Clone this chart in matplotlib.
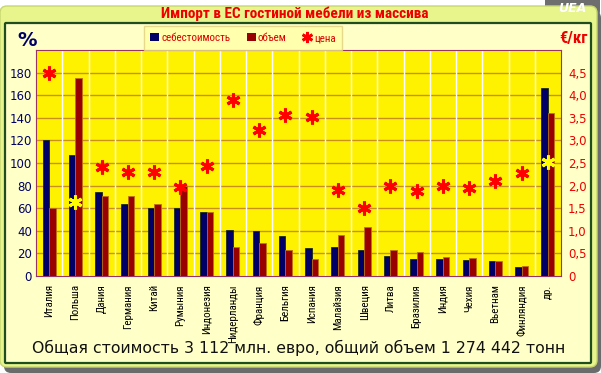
import matplotlib
matplotlib.use("Agg")
import matplotlib.pyplot as plt
import numpy as np
from matplotlib import font_manager as fm
from matplotlib.patches import FancyBboxPatch, Patch
from matplotlib.lines import Line2D
from matplotlib.ticker import FuncFormatter

# --- Data ---
countries = ['Италия', 'Польша', 'Дания', 'Германия', 'Китай', 'Румыния',
             'Индонезия', 'Нидерланды', 'Франция', 'Бельгия', 'Испания',
             'Малайзия', 'Швеция', 'Литва', 'Бразилия', 'Индия', 'Чехия',
             'Вьетнам', 'Финляндия', 'др.']
cost_pct = [120, 107, 74, 64, 60, 60, 57, 41, 40, 35, 25, 26, 23, 18, 15, 15, 14, 13, 8, 166]
volume_pct = [60, 175, 71, 71, 64, 80, 57, 26, 29, 23, 15, 36, 43, 23, 21, 17, 16, 13, 9, 144]
price_eur_kg = [4.5, 1.63, 2.41, 2.3, 2.3, 1.97, 2.43, 3.9, 3.22, 3.57, 3.52,
                1.91, 1.5, 2.0, 1.87, 2.0, 1.95, 2.11, 2.28, 2.52]
yellow_star = ['Польша', 'др.']

title = 'Импорт в ЕС гостиной мебели из массива'
footer = 'Общая стоимость 3 112 млн. евро, общий объем 1 274 442 тонн'

# --- Fonts: a narrow face if installed, otherwise Roboto a bit smaller ---
names = {f.name for f in fm.fontManager.ttflist}
narrow_name = next((n for n in ['Liberation Sans Narrow', 'Roboto Condensed',
                                'Open Sans Condensed'] if n in names), None)
if narrow_name:
    narrow, k = narrow_name, 1.0
else:
    narrow, k = 'Roboto', 0.86

W, H = 601, 373
fig = plt.figure(figsize=(W / 100, H / 100), dpi=100)
fig.patch.set_facecolor('white')

# background layer in pixel coordinates
bg = fig.add_axes([0, 0, 1, 1])
bg.set_xlim(0, W)
bg.set_ylim(H, 0)
bg.axis('off')
bg.set_zorder(0)

def rbox(x0, y0, x1, y1, r, **kw):
    p = FancyBboxPatch((x0 + r, y0 + r), x1 - x0 - 2 * r, y1 - y0 - 2 * r,
                       boxstyle=f'round,pad={r}', **kw)
    bg.add_patch(p)

rbox(4, 11, 601, 373, 7, facecolor='#6b6b6b', edgecolor='none')          # shadow
rbox(545, -10, 600, 17, 6, facecolor='#6e6e6e', edgecolor='none')         # UEA tab
rbox(0, 6, 597, 367, 7, facecolor='#e8f48c', edgecolor='#c8d670', lw=1)  # card
rbox(5, 23, 591, 363, 1, facecolor='#ffffc8', edgecolor='#1e4d1e', lw=1.6)

bg.text(572, 9, 'UEA', color='white', fontsize=9, fontweight='bold',
        fontstyle='italic', ha='center', va='center')
bg.text(295, 14, title, color='#ee0000', fontsize=11 * k, fontweight='bold',
        ha='center', va='center', family=narrow)
bg.text(27, 41, '%', color='#000066', fontsize=14, fontweight='bold',
        ha='center', va='center')
bg.text(573, 39, '€/кг', color='#ee0000', fontsize=12 * k, fontweight='bold',
        ha='center', va='center', family=narrow)
bg.text(299, 348, footer, color='#111111', fontsize=11.3, ha='center', va='center')

# --- Chart ---
ax = fig.add_axes([36 / W, 97 / H, 525 / W, 226 / H])
ax.set_zorder(1)
ax.set_facecolor('#fff200')
x = np.arange(len(countries))
bw = 0.25

for v in range(20, 200, 20):
    ax.axhline(v, color='#c8901e', lw=1, zorder=1)
for b in x[:-1] + 0.5:
    ax.axvline(b, color='white', lw=1, zorder=1)

ax.bar(x - bw / 2, cost_pct, bw, color='#000066', edgecolor='#1a2a10', lw=0.6, zorder=3)
ax.bar(x + bw / 2, volume_pct, bw, color='#990000', edgecolor='#c07010', lw=0.6, zorder=3)

ax.set_xlim(-0.5, len(countries) - 0.5)
ax.set_ylim(0, 200)
ax.set_yticks(range(0, 200, 20))
ax.tick_params(axis='y', length=0, pad=3, labelsize=8.5, labelcolor='#000066')
ax.set_xticks(x)
ax.set_xticklabels(countries, rotation=90, va='top', ha='center',
                   fontsize=7.9 * k, family=narrow)
ax.tick_params(axis='x', length=0, pad=6)
for s in ax.spines.values():
    s.set_color('#993366')
    s.set_linewidth(0.8)

ax2 = ax.twinx()
ax2.set_zorder(2)
ax2.set_ylim(0, 5)
ax2.set_yticks(np.arange(0, 4.6, 0.5))
ax2.yaxis.set_major_formatter(FuncFormatter(lambda v, p: '0' if v == 0 else f'{v:.1f}'.replace('.', ',')))
ax2.tick_params(axis='y', length=0, pad=5, labelsize=8.5, labelcolor='#ee0000')
for s in ax2.spines.values():
    s.set_visible(False)

star = (6, 2, 0)
star_colors = ['#ffff00' if c in yellow_star else '#ff0000' for c in countries]
for xi, p, c in zip(x, price_eur_kg, star_colors):
    ax2.plot(xi, p, marker=star, markersize=10, markeredgewidth=2.2,
             color=c, markeredgecolor=c, linestyle='none', zorder=5)

# legend
handles = [Patch(facecolor='#000066', edgecolor='none'),
           Patch(facecolor='#990000', edgecolor='none'),
           Line2D([], [], marker=star, color='#ff0000', markersize=8,
                  markeredgewidth=2, linestyle='none')]
leg = fig.legend(handles, ['себестоимость', 'объем', 'цена'],
                 loc='center', bbox_to_anchor=(243 / W, 1 - 38 / H), ncol=3,
                 frameon=True, fancybox=False, facecolor='#ffffa8', edgecolor='#e0d080',
                 handlelength=0.8, handleheight=0.8, handletextpad=0.2,
                 columnspacing=1.5, borderpad=0.6, labelcolor='#dd0000',
                 prop=fm.FontProperties(size=7.9 * k, family=narrow))
leg.get_frame().set_linewidth(1)

fig.savefig('out.png', dpi=100)
